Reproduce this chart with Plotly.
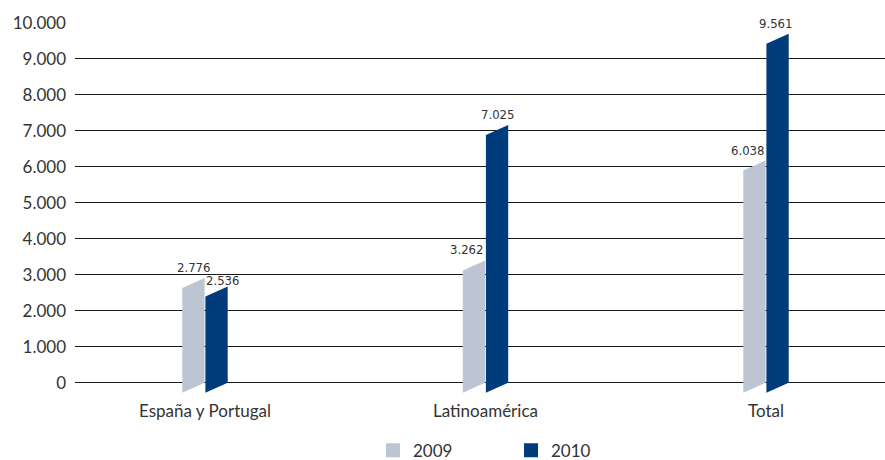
import plotly.graph_objects as go

# ---- data ----
categories = ["España y Portugal", "Latinoamérica", "Total"]
series_names = ["2009", "2010"]
values_2009 = [2776, 3262, 6038]
values_2010 = [2536, 7025, 9561]
value_labels_2009 = ["2.776", "3.262", "6.038"]
value_labels_2010 = ["2.536", "7.025", "9.561"]
y_tick_values = [0, 1000, 2000, 3000, 4000, 5000, 6000, 7000, 8000, 9000, 10000]
y_tick_labels = ["0", "1.000", "2.000", "3.000", "4.000", "5.000", "6.000",
                 "7.000", "8.000", "9.000", "10.000"]

# ---- styling ----
COL_2009 = "#bdc5d3"
COL_2010 = "#003c7c"
TEXT = "#333333"
GRID = "#1a1a1a"
label_xshift_2009 = [0, -7, -7]
label_xshift_2010 = [6, 0, -2]
label_yshift_2009 = [1, 1, 1]
label_yshift_2010 = [-3, 1, 1]

W, H = 885, 460
M_L, M_R, M_T = 75, 0, 23
PX_PER_UNIT_Y = 36 / 1000.0        # pixels per data unit (vertical)
PX_PER_CAT = 280.5                  # pixels between categories
FIRST_CAT_PX = 130                  # first category centre, from plot left
Y_MIN = -450
plot_w = W - M_L - M_R
plot_h = (10000 - Y_MIN) * PX_PER_UNIT_Y
M_B = H - M_T - plot_h

x_range = [-FIRST_CAT_PX / PX_PER_CAT, (plot_w - FIRST_CAT_PX) / PX_PER_CAT]
bar_w = 22.3 / PX_PER_CAT
gap = 0.4 / PX_PER_CAT
slant = 10 / PX_PER_UNIT_Y           # data units of the sloped top/bottom

LEGEND_LEFT_PX = 373
LEGEND_MID_PX = 451


def bar_polys(values, offset_sign):
    xs, ys = [], []
    for i, v in enumerate(values):
        if offset_sign < 0:
            x0, x1 = i - gap - bar_w, i - gap
        else:
            x0, x1 = i + gap, i + gap + bar_w
        xs += [x0, x1, x1, x0, x0, None]
        ys += [-slant, 0, v + slant / 2, v - slant / 2, -slant, None]
    return xs, ys


fig = go.Figure()

for name, vals, sign, col in [("2009", values_2009, -1, COL_2009),
                              ("2010", values_2010, 1, COL_2010)]:
    xs, ys = bar_polys(vals, sign)
    fig.add_trace(go.Scatter(
        x=xs, y=ys, mode="lines", fill="toself", fillcolor=col,
        line=dict(width=0, color=col), showlegend=False,
        legendgroup=name, hoverinfo="skip"))
    fig.add_trace(go.Scatter(
        x=[None], y=[None], mode="markers", name=name, legendgroup=name,
        marker=dict(symbol="square", size=14, color=col)))

# value labels
for vals, labs, sign, xsh, ysh in [
        (values_2009, value_labels_2009, -1, label_xshift_2009, label_yshift_2009),
        (values_2010, value_labels_2010, 1, label_xshift_2010, label_yshift_2010)]:
    for i, (v, lab) in enumerate(zip(vals, labs)):
        xc = i + sign * (gap + bar_w / 2)
        fig.add_annotation(
            x=xc, y=v + slant / 2, text=lab, showarrow=False,
            xanchor="center", yanchor="bottom", yshift=ysh[i], xshift=xsh[i],
            font=dict(family="DejaVu Sans Condensed, Liberation Sans Narrow, sans-serif",
                      size=13, color=TEXT))

fig.update_layout(
    width=W, height=H,
    margin=dict(l=M_L, r=M_R, t=M_T, b=M_B, autoexpand=False),
    paper_bgcolor="white", plot_bgcolor="white",
    font=dict(family="Lato, Open Sans, sans-serif", size=17, color=TEXT),
    showlegend=True,
    legend=dict(orientation="h",
                x=(LEGEND_LEFT_PX - M_L) / plot_w, xanchor="left",
                y=-(LEGEND_MID_PX - M_T - plot_h) / plot_h, yanchor="middle",
                entrywidth=93, entrywidthmode="pixels",
                font=dict(size=17, color=TEXT), itemclick=False, bgcolor="rgba(0,0,0,0)"),
    xaxis=dict(range=x_range, tickvals=list(range(len(categories))), ticktext=categories,
               showgrid=False, zeroline=False, showline=False, ticks="",
               tickfont=dict(size=17, color=TEXT), fixedrange=True),
    yaxis=dict(range=[Y_MIN, 10000], tickvals=y_tick_values, ticktext=y_tick_labels,
               showgrid=True, gridcolor=GRID, gridwidth=1, zeroline=False,
               showline=False, ticks="", ticklabelstandoff=8,
               tickfont=dict(size=17, color=TEXT), fixedrange=True),
)

fig.write_html("out.html", config={"displayModeBar": False},
               post_script="document.body.style.margin='0';document.body.style.padding='0';")
